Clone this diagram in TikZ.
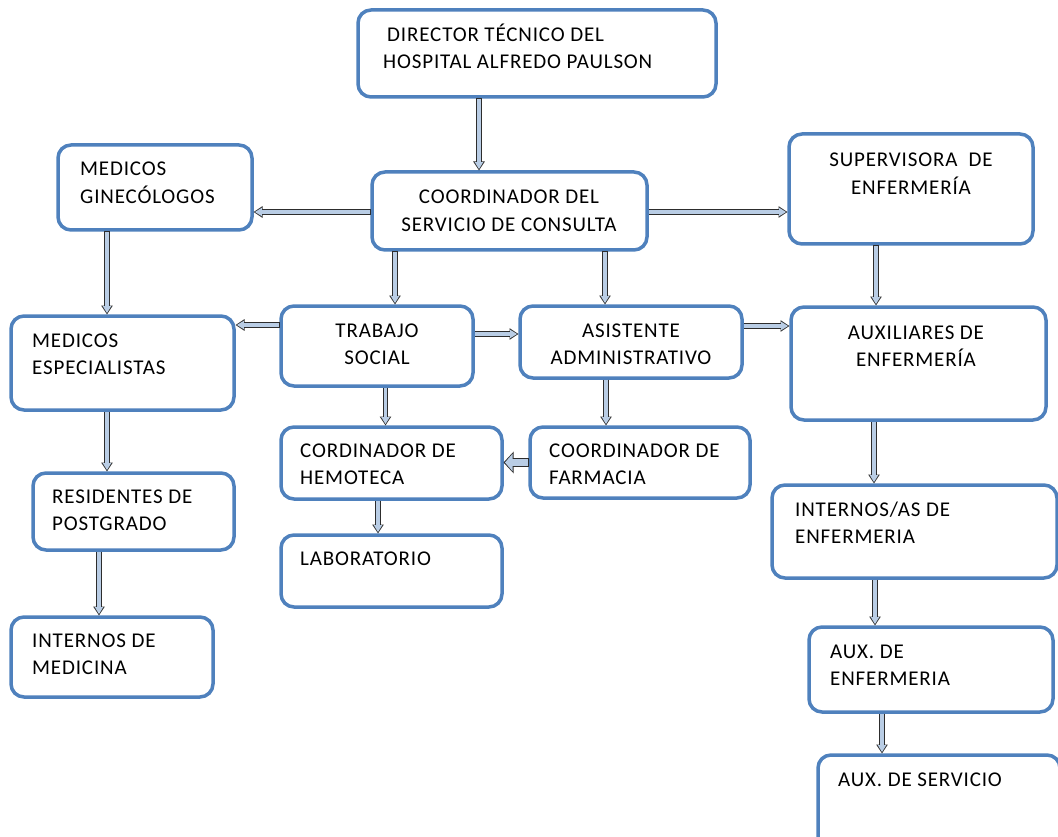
\documentclass[tikz,border=0pt]{standalone}
\usepackage{fontspec}
\setmainfont[LetterSpace=4]{Carlito}
\usepackage{tikz}
\usetikzlibrary{arrows.meta}

\definecolor{boxblue}{RGB}{79,129,189}
\definecolor{arrowfill}{RGB}{185,205,229}
\definecolor{arrowline}{RGB}{45,45,45}

\begin{document}
\begin{tikzpicture}[x=1pt,y=-1pt,
  box/.style={draw=boxblue, line width=3.5pt, rounded corners=13pt, fill=white,
    inner sep=0pt, outer sep=0pt, anchor=north west},
  txt/.style={inner sep=0pt, font=\fontsize{21}{27.5}\selectfont, text=black},
  arr/.style={draw=arrowline, line width=5.4pt, shorten >=1.5pt, shorten <=1.5pt,
    -{Triangle[length=9pt,width=11pt]},
    postaction={draw=arrowfill, line width=3.6pt, shorten >=2.9pt, shorten <=2.1pt,
      -{Triangle[length=7pt,width=8pt]}}},
  bigarr/.style={draw=arrowline, line width=9.5pt, shorten >=1.5pt, shorten <=1.5pt,
    -{Triangle[length=10pt,width=21pt]},
    postaction={draw=arrowfill, line width=7.5pt, shorten >=3pt, shorten <=2.3pt,
      -{Triangle[length=7.5pt,width=17pt]}}}]
\useasboundingbox (0,0) rectangle (1058,837);

%Rounded Rect
\node[box, minimum width=358, minimum height=87] (dir) at (358,10) {};
\node[box, minimum width=275, minimum height=78] (coord) at (372,172) {};
\node[box, minimum width=194, minimum height=85] (ginec) at (58,145) {};
\node[box, minimum width=244, minimum height=110] (superv) at (789,134) {};
\node[box, minimum width=223, minimum height=94] (espec) at (11,316) {};
\node[box, minimum width=192, minimum height=80] (trab) at (281,306) {};
\node[box, minimum width=222, minimum height=72] (asist) at (520,306) {};
\node[box, minimum width=255, minimum height=113] (auxil) at (791,307) {};
\node[box, minimum width=221, minimum height=72] (hemo) at (281,427) {};
\node[box, minimum width=220, minimum height=71] (farm) at (530,427) {};
\node[box, minimum width=201, minimum height=77] (resid) at (33,473) {};
\node[box, minimum width=221, minimum height=72] (lab) at (281,535) {};
\node[box, minimum width=285, minimum height=93] (intas) at (772,485) {};
\node[box, minimum width=202, minimum height=80] (intmed) at (11,617) {};
\node[box, minimum width=244, minimum height=85] (auxenf) at (809,627) {};
\node[box, minimum width=242, minimum height=100] (auxserv) at (818,755) {};

% Text Node
\node[txt, anchor=base west, align=left] (dirT) at (383,69) {\hspace{4pt}DIRECTOR TÉCNICO DEL\\HOSPITAL ALFREDO PAULSON};
\node[txt, anchor=base, align=center] (coordT) at (509,231.5) {COORDINADOR DEL\\SERVICIO DE CONSULTA};
\node[txt, anchor=base west, align=left] (ginecT) at (80,203.5) {MEDICOS\\GINECÓLOGOS};
\node[txt, anchor=base, align=center] (supervT) at (911,194.5) {SUPERVISORA \ DE\\ENFERMERÍA};
\node[txt, anchor=base west, align=left] (especT) at (32,374.5) {MEDICOS\\ESPECIALISTAS};
\node[txt, anchor=base, align=center] (trabT) at (377,364.5) {TRABAJO\\SOCIAL};
\node[txt, anchor=base, align=center] (asistT) at (631,364.5) {ASISTENTE\\ADMINISTRATIVO};
\node[txt, anchor=base, align=center] (auxilT) at (916,366.5) {AUXILIARES DE\\ENFERMERÍA};
\node[txt, anchor=base west, align=left] (hemoT) at (300,484.5) {CORDINADOR DE\\HEMOTECA};
\node[txt, anchor=base west, align=left] (farmT) at (549,484.5) {COORDINADOR DE\\FARMACIA};
\node[txt, anchor=base west, align=left] (residT) at (52,530.5) {RESIDENTES DE\\POSTGRADO};
\node[txt, anchor=base west] (labT) at (300,565) {LABORATORIO};
\node[txt, anchor=base west, align=left] (intasT) at (795,543.5) {INTERNOS/AS DE\\ENFERMERIA};
\node[txt, anchor=base west, align=left] (intmedT) at (32,674.5) {INTERNOS DE\\MEDICINA};
\node[txt, anchor=base west, align=left] (auxenfT) at (830,685.5) {AUX. DE\\ENFERMERIA};
\node[txt, anchor=base west] (auxservT) at (838,786) {AUX. DE SERVICIO};

%Straight Lines
\draw[arr] ([xshift=-30.5]coord.north |- dir.south) -- ([xshift=-30.5]coord.north);
\draw[arr] ([yshift=-1]coord.west) -- ([yshift=-1]coord.west -| ginec.east);
\draw[arr] ([yshift=-1]coord.east) -- ([yshift=-1]coord.east -| superv.west);
\draw[arr] ([xshift=18]trab.north |- coord.south) -- ([xshift=18]trab.north);
\draw[arr] ([xshift=-26]asist.north |- coord.south) -- ([xshift=-26]asist.north);
\draw[arr] ([xshift=-15.5]espec.north |- ginec.south) -- ([xshift=-15.5]espec.north);
\draw[arr] ([xshift=-42.5]auxil.north |- superv.south) -- ([xshift=-42.5]auxil.north);
\draw[arr] ([yshift=21]trab.west) -- ([yshift=21]trab.west -| espec.east);
\draw[arr] ([yshift=12]trab.east) -- ([yshift=12]trab.east -| asist.west);
\draw[arr] ([yshift=16]asist.east) -- ([yshift=16]asist.east -| auxil.west);
\draw[arr] ([xshift=-6]hemo.north |- trab.south) -- ([xshift=-6]hemo.north);
\draw[arr] ([xshift=-34]farm.north |- asist.south) -- ([xshift=-34]farm.north);
\draw[bigarr] (farm.west) -- (farm.west -| hemo.east);
\draw[arr] ([xshift=-26.5]resid.north |- espec.south) -- ([xshift=-26.5]resid.north);
\draw[arr] ([xshift=-13.5]lab.north |- hemo.south) -- ([xshift=-13.5]lab.north);
\draw[arr] ([xshift=-40.5]intas.north |- auxil.south) -- ([xshift=-40.5]intas.north);
\draw[arr] ([xshift=-13]intmed.north |- resid.south) -- ([xshift=-13]intmed.north);
\draw[arr] ([xshift=-56]auxenf.north |- intas.south) -- ([xshift=-56]auxenf.north);
\draw[arr] ([xshift=-57]auxserv.north |- auxenf.south) -- ([xshift=-57]auxserv.north);

\end{tikzpicture}
\end{document}
